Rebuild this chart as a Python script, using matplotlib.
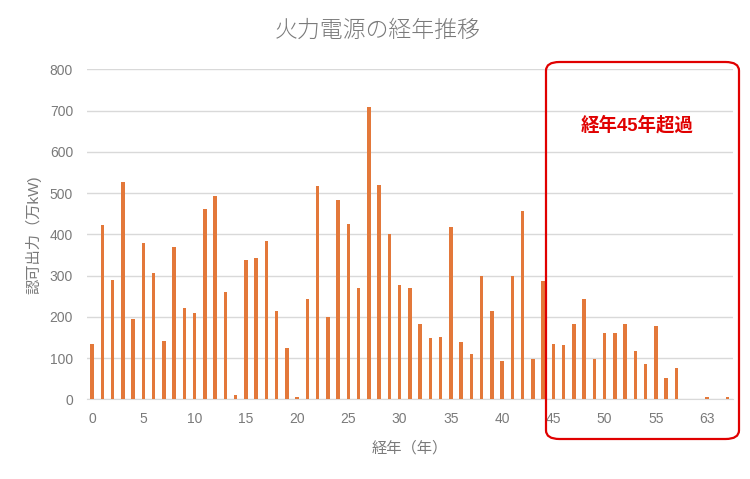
import matplotlib
matplotlib.use("Agg")
import matplotlib.pyplot as plt
from matplotlib.patches import FancyBboxPatch

plt.rcParams['font.family'] = ['Liberation Sans', 'Noto Sans CJK JP', 'DejaVu Sans']

years = [str(i) for i in range(58)] + ["58", "60", "63", "64", "65"]
capacity = [135, 423, 290, 527, 194, 379, 306, 141, 369, 221,
            209, 462, 493, 261, 10, 339, 342, 383, 215, 124,
            6, 243, 518, 199, 483, 426, 271, 710, 520, 402,
            277, 271, 184, 149, 152, 419, 140, 111, 300, 215,
            94, 300, 458, 98, 286, 134, 133, 182, 243, 98,
            162, 160, 183, 117, 86, 179, 51, 77, 0, 0,
            5, 0, 5]
yticks = [0, 100, 200, 300, 400, 500, 600, 700, 800]

title = "火力電源の経年推移"
xlabel = "経年（年）"
ylabel = "認可出力（万kW)"
note = "経年45年超過"

gray = "#7a7a7a"
fig = plt.figure(figsize=(7.5, 4.79), dpi=100)
ax = fig.add_axes([0.116, 0.166, 0.861, 0.689])
pos = list(range(len(years)))
ax.bar(pos, capacity, width=0.36, color="#E3783A", zorder=3)
ax.set_xlim(-0.5, len(years) - 0.5)
ax.set_ylim(0, 800)
ax.set_yticks(yticks)
ax.set_yticklabels([str(v) for v in yticks])
tick_idx = list(range(0, len(years), 5))
ax.set_xticks(tick_idx)
ax.set_xticklabels([years[i] for i in tick_idx])
ax.grid(axis='y', color="#D9D9D9", linewidth=1, zorder=0)
for s in ['top', 'right', 'left']:
    ax.spines[s].set_visible(False)
ax.spines['bottom'].set_color("#D9D9D9")
ax.tick_params(axis='both', length=0, colors=gray, labelsize=10, pad=9)
ax.tick_params(axis='y', pad=10)
ax.set_xlabel(xlabel, color=gray, fontsize=11, labelpad=11)
ax.set_ylabel(ylabel, color=gray, fontsize=11, labelpad=6)
fig.text(0.503, 1 - 30 / 479, title, ha='center', va='center', color="#7a7a7a",
         fontsize=16.5, fontweight='light')

rect = FancyBboxPatch((546 / 750, 1 - 439 / 479), (739 - 546) / 750, (439 - 62) / 479,
                      boxstyle="round,pad=0,rounding_size=0.018",
                      transform=fig.transFigure, fill=False,
                      edgecolor="#E00000", linewidth=1.6, zorder=10)
fig.patches.append(rect)
fig.text(637 / 750, 1 - 125 / 479, note, ha='center', va='center', color="#E00000",
         fontsize=13.3, fontweight='bold')

fig.savefig("out.png", dpi=100)
